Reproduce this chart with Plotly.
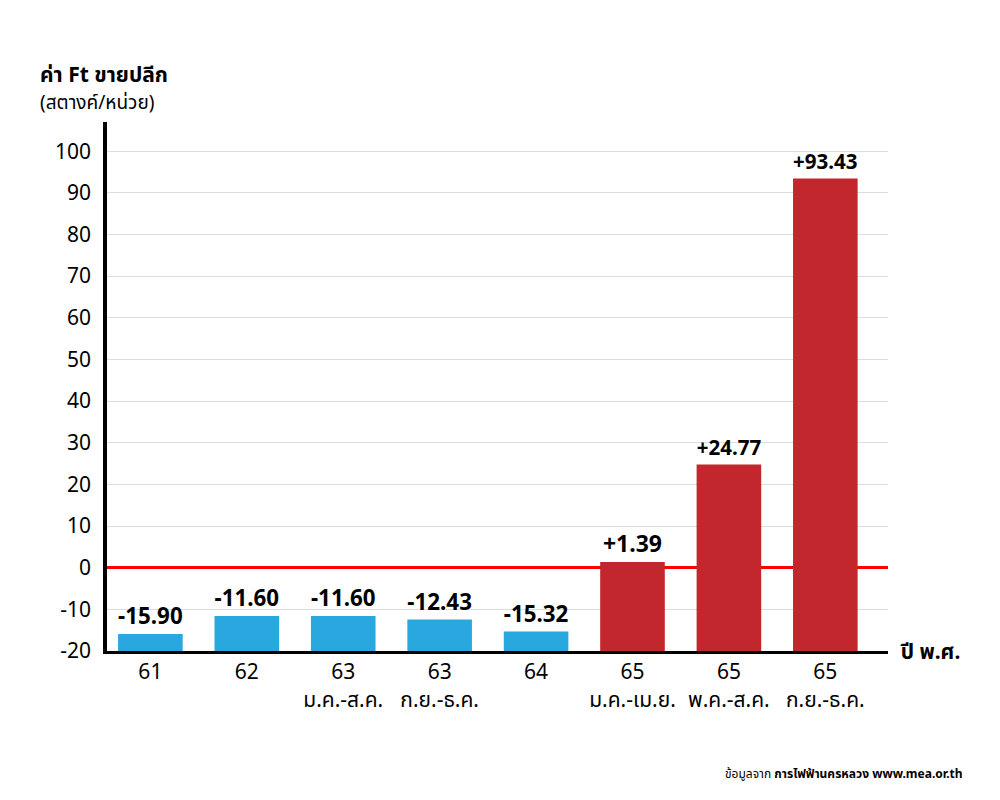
import plotly.graph_objects as go

categories = ["61", "62", "63<br>ม.ค.-ส.ค.", "63<br>ก.ย.-ธ.ค.", "64",
              "65<br>ม.ค.-เม.ย.", "65<br>พ.ค.-ส.ค.", "65<br>ก.ย.-ธ.ค."]
values = [-15.90, -11.60, -11.60, -12.43, -15.32, 1.39, 24.77, 93.43]
labels = ["-15.90", "-11.60", "-11.60", "-12.43", "-15.32", "+1.39", "+24.77", "+93.43"]
colors = ["#29a8e0"] * 5 + ["#c1272d"] * 3
axis_base = -20
y_ticks = [-20, -10, 0, 10, 20, 30, 40, 50, 60, 70, 80, 90, 100]
y_ticktext = ["-20", "-10", "0", "10", "20", "30", "40", "50", "60", "70", "80", "90", "100"]

FONT = "Noto Sans, Noto Sans Thai, sans-serif"

x_idx = list(range(len(categories)))
fig = go.Figure()
fig.add_trace(go.Bar(
    x=x_idx,
    y=[v - axis_base for v in values],
    base=axis_base,
    marker=dict(color=colors, line=dict(width=0)),
    width=0.67,
    text=labels,
    textposition="outside",
    textfont=dict(size=23, color="black", family=FONT, weight="bold"),
    cliponaxis=False,
    hoverinfo="skip",
))

fig.update_layout(
    width=1000, height=800,
    margin=dict(l=99, r=120, t=114, b=157),
    plot_bgcolor="white", paper_bgcolor="white",
    showlegend=False,
    font=dict(family=FONT, color="black"),
    xaxis=dict(
        range=[-0.45, 7.65],
        tickmode="array", tickvals=x_idx, ticktext=categories,
        tickfont=dict(size=21, color="black"),
        showline=True, linecolor="black", linewidth=3,
        ticks="", showgrid=False, zeroline=False,
    ),
    yaxis=dict(
        range=[-20, 107],
        tickmode="array", tickvals=y_ticks, ticktext=y_ticktext,
        tickfont=dict(size=21, color="black"),
        showline=True, linecolor="black", linewidth=3.5,
        showgrid=True, gridcolor="#dddddd", gridwidth=1,
        zeroline=True, zerolinecolor="#ff0000", zerolinewidth=2.5,
        ticks="", ticklabelstandoff=8,
    ),
    annotations=[
        dict(text="<b>ค่า Ft ขายปลีก</b>", xref="paper", yref="paper", x=-0.088, y=1.09,
             xanchor="left", yanchor="middle", showarrow=False, font=dict(size=21, color="black")),
        dict(text="(สตางค์/หน่วย)", xref="paper", yref="paper", x=-0.088, y=1.038,
             xanchor="left", yanchor="middle", showarrow=False, font=dict(size=19, color="black")),
        dict(text="<b>ปี พ.ศ.</b>", xref="paper", yref="paper", x=1.013, y=0.0,
             xanchor="left", yanchor="middle", showarrow=False, font=dict(size=21, color="black")),
        dict(text="ข้อมูลจาก <b>การไฟฟ้านครหลวง www.mea.or.th</b>", xref="paper", yref="paper",
             x=1.0986, y=-0.2325, xanchor="right", yanchor="middle", showarrow=False,
             font=dict(size=12, color="black")),
    ],
)

fig.write_html("out.html")
